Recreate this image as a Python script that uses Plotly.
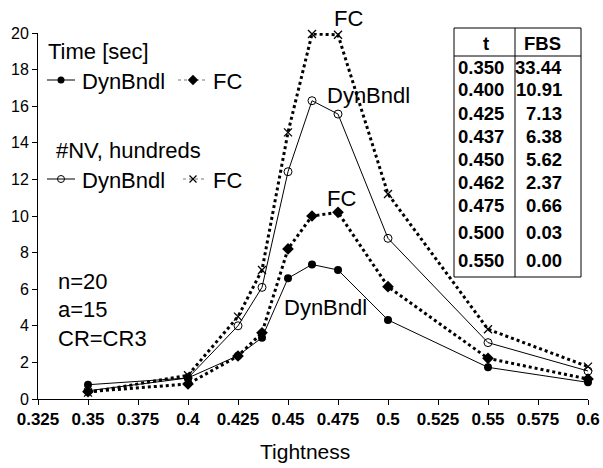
import plotly.graph_objects as go

# ---------------- data ----------------
tightness = [0.35, 0.4, 0.425, 0.437, 0.45, 0.462, 0.475, 0.5, 0.55, 0.6]
time_dynbndl = [0.78, 1.15, 2.37, 3.35, 6.6, 7.35, 7.05, 4.32, 1.73, 0.91]
time_fc = [0.4, 0.82, 2.35, 3.62, 8.2, 10.0, 10.2, 6.14, 2.22, 1.09]
nv_dynbndl = [0.45, 1.15, 4.0, 6.1, 12.42, 16.3, 15.57, 8.78, 3.08, 1.53]
nv_fc = [0.35, 1.3, 4.5, 7.05, 14.57, 19.95, 19.9, 11.2, 3.81, 1.77]

table_t = ["0.350", "0.400", "0.425", "0.437", "0.450", "0.462", "0.475", "0.500", "0.550"]
table_fbs = ["33.44", "10.91", "7.13", "6.38", "5.62", "2.37", "0.66", "0.03", "0.00"]

x_ticks = [0.325, 0.35, 0.375, 0.4, 0.425, 0.45, 0.475, 0.5, 0.525, 0.55, 0.575, 0.6]
x_tick_labels = ["0.325", "0.35", "0.375", "0.4", "0.425", "0.45", "0.475", "0.5", "0.525", "0.55", "0.575", "0.6"]

# ---------------- layout geometry (page pixels) ----------------
W, H = 603, 468
PL, PR, PT, PB = 38, 588, 33, 399  # plot area on the page
L, T, R, B = PL, PT, W - PR, H - PB
PW, PH = PR - PL, PB - PT
FONT = "Liberation Sans, Arial, sans-serif"


def px(xp):
    return (xp - PL) / PW


def py(yp):
    return (PB - yp) / PH


fig = go.Figure()

fig.add_trace(go.Scatter(x=tightness, y=nv_fc, mode="lines+markers",
                         line=dict(color="black", width=3, dash="dot"),
                         marker=dict(symbol="x-thin", size=8, color="black",
                                     line=dict(color="black", width=1.3)),
                         showlegend=False, cliponaxis=False))
fig.add_trace(go.Scatter(x=tightness, y=nv_dynbndl, mode="lines+markers",
                         line=dict(color="black", width=1),
                         marker=dict(symbol="circle-open", size=8, color="black",
                                     line=dict(color="black", width=1)),
                         showlegend=False, cliponaxis=False))
fig.add_trace(go.Scatter(x=tightness, y=time_fc, mode="lines+markers",
                         line=dict(color="black", width=3, dash="dot"),
                         marker=dict(symbol="diamond", size=9, color="black"),
                         showlegend=False, cliponaxis=False))
fig.add_trace(go.Scatter(x=tightness, y=time_dynbndl, mode="lines+markers",
                         line=dict(color="black", width=1),
                         marker=dict(symbol="circle", size=8, color="black"),
                         showlegend=False, cliponaxis=False))


# ---------- manual legend (overlay axes in page pixel coords) ----------
def seg(xs, y, **kw):
    fig.add_trace(go.Scatter(x=xs, y=[y] * len(xs), xaxis="x2", yaxis="y2",
                             showlegend=False, hoverinfo="skip", cliponaxis=False, **kw))


seg([47, 75], 80, mode="lines", line=dict(color="black", width=1))
seg([61], 80, mode="markers", marker=dict(symbol="circle", size=7, color="black"))
seg([178, 207], 80, mode="lines", line=dict(color="#777", width=1, dash="dot"))
seg([193], 80, mode="markers", marker=dict(symbol="diamond", size=8, color="black"))
seg([47, 75], 179, mode="lines", line=dict(color="black", width=1))
seg([61], 179, mode="markers", marker=dict(symbol="circle-open", size=7, color="black",
                                           line=dict(width=1, color="black")))
seg([183, 205], 179, mode="lines", line=dict(color="#777", width=1, dash="dot"))
seg([193], 179, mode="markers", marker=dict(symbol="x-thin", size=7, color="black",
                                            line=dict(width=1.2, color="black")))

annotations = []


def txt(text, xp, yp, size=22, xanchor="left", bold=False):
    annotations.append(dict(text=("<b>%s</b>" % text) if bold else text,
                            x=px(xp), y=py(yp), xref="paper", yref="paper",
                            xanchor=xanchor, yanchor="middle", showarrow=False,
                            font=dict(family=FONT, size=size, color="black")))


txt("Time [sec]", 46, 52)
txt("DynBndl", 80, 81)
txt("FC", 211, 81)
txt("#NV, hundreds", 54, 150)
txt("DynBndl", 80, 180)
txt("FC", 211, 180)
txt("n=20", 56, 281)
txt("a=15", 56, 309)
txt("CR=CR3", 56, 338)

# curve labels
txt("FC", 348, 18, xanchor="center")
txt("DynBndl", 368, 96, xanchor="center")
txt("FC", 341, 199, xanchor="center")
txt("DynBndl", 325, 307, xanchor="center")

# axis title
txt("Tightness", 305, 451, size=21, xanchor="center")

# ---------- table ----------
shapes = []
tx0, tx1, tdiv, ty0, thead, ty1 = 454, 581, 515, 28, 56, 277
shapes.append(dict(type="rect", xref="paper", yref="paper", x0=px(tx0), x1=px(tx1),
                   y0=py(ty1), y1=py(ty0), line=dict(color="black", width=1),
                   fillcolor="white", layer="below"))
shapes.append(dict(type="line", xref="paper", yref="paper", x0=px(tx0), x1=px(tx1),
                   y0=py(thead), y1=py(thead), line=dict(color="black", width=1)))
shapes.append(dict(type="line", xref="paper", yref="paper", x0=px(tdiv), x1=px(tdiv),
                   y0=py(ty1), y1=py(ty0), line=dict(color="black", width=1)))

txt("t", 486, 43, size=18.5, xanchor="center", bold=True)
txt("FBS", 542, 43, size=18.5, xanchor="center", bold=True)
row_y = [67, 90, 113, 136, 159, 182, 205, 232, 260]
for tv, fv, yy in zip(table_t, table_fbs, row_y):
    txt(tv, 456, yy, size=18.5, bold=True)
    txt(fv, 564, yy, size=18.5, xanchor="right", bold=True)

fig.update_layout(
    width=W, height=H, autosize=False,
    margin=dict(l=L, r=R, t=T, b=B, pad=0, autoexpand=False),
    paper_bgcolor="white", plot_bgcolor="white",
    font=dict(family=FONT, color="black"),
    showlegend=False,
    annotations=annotations,
    shapes=shapes,
    xaxis=dict(range=[0.325, 0.6], tickmode="array", tickvals=x_ticks,
               ticktext=["<b>%s</b>" % t for t in x_tick_labels], automargin=False,
               showline=True, linecolor="black", linewidth=1, ticks="outside", ticklen=5,
               tickcolor="black", showgrid=False, zeroline=False,
               tickfont=dict(family=FONT, size=17, color="black")),
    yaxis=dict(range=[0, 20], dtick=2, showline=True, linecolor="black", linewidth=1,
               automargin=False,
               ticks="outside", ticklen=5, tickcolor="black", showgrid=False, zeroline=False,
               tickfont=dict(family=FONT, size=16, color="black")),
    xaxis2=dict(range=[PL, PR], overlaying="x", visible=False, fixedrange=True, automargin=False),
    yaxis2=dict(range=[PB, PT], overlaying="y", visible=False, fixedrange=True, automargin=False),
)

fig.write_html("out.html", config={"displayModeBar": False},
               post_script="document.body.style.margin='0px';")
